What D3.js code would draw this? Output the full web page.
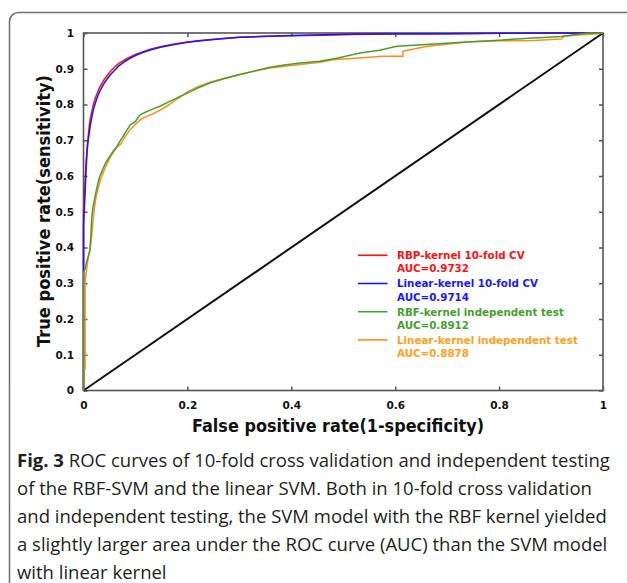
<!DOCTYPE html>
<html>
<head>
<meta charset="utf-8">
<script src="https://cdn.jsdelivr.net/npm/d3@7/dist/d3.min.js"></script>
<style>
  html, body { margin: 0; padding: 0; background: #fff; }
  svg { display: block; }
</style>
</head>
<body>
<svg id="chart" width="627" height="583"></svg>
<script>
// ---------------- DATA ----------------
const xTicks = [0, 0.2, 0.4, 0.6, 0.8, 1];
const yTicks = [0, 0.1, 0.2, 0.3, 0.4, 0.5, 0.6, 0.7, 0.8, 0.9, 1];

const seriesNames = ["RBP-kernel 10-fold CV", "Linear-kernel 10-fold CV", "RBF-kernel independent test", "Linear-kernel independent test"];
const seriesAUC = ["AUC=0.9732", "AUC=0.9714", "AUC=0.8912", "AUC=0.8878"];
const seriesColors = ["#ff1010", "#1818ff", "#44a030", "#ff8c1e"];
const legendTextColors = ["#ff1010", "#1818ff", "#44a030", "#ffa020"];

const fprRbfCV = [0, 0, 0.003, 0.005, 0.007, 0.009, 0.011, 0.013, 0.016, 0.019, 0.022, 0.026, 0.030, 0.035, 0.040, 0.046, 0.052, 0.060, 0.068, 0.077, 0.088, 0.100, 0.115, 0.130, 0.150, 0.175, 0.200, 0.230, 0.265, 0.300, 0.340, 0.400, 0.460, 0.520, 0.600, 0.700, 0.800, 0.900, 1.0];
const tprRbfCV = [0, 0.50, 0.58, 0.64, 0.68, 0.71, 0.74, 0.76, 0.78, 0.80, 0.815, 0.83, 0.845, 0.858, 0.87, 0.882, 0.893, 0.905, 0.915, 0.923, 0.932, 0.940, 0.948, 0.955, 0.962, 0.969, 0.975, 0.980, 0.984, 0.988, 0.990, 0.992, 0.994, 0.996, 0.997, 0.998, 0.999, 1.0, 1.0];

const fprLinCV = [0, 0, 0.003, 0.005, 0.007, 0.009, 0.011, 0.013, 0.016, 0.019, 0.022, 0.026, 0.030, 0.035, 0.040, 0.046, 0.052, 0.060, 0.068, 0.077, 0.088, 0.100, 0.115, 0.130, 0.150, 0.175, 0.200, 0.230, 0.265, 0.300, 0.340, 0.400, 0.460, 0.520, 0.600, 0.700, 0.800, 0.900, 1.0];
const tprLinCV = [0, 0.46, 0.55, 0.62, 0.67, 0.70, 0.72, 0.74, 0.765, 0.785, 0.80, 0.818, 0.833, 0.847, 0.86, 0.872, 0.884, 0.896, 0.908, 0.918, 0.928, 0.937, 0.946, 0.953, 0.961, 0.968, 0.974, 0.979, 0.984, 0.988, 0.990, 0.993, 0.995, 0.997, 0.998, 0.998, 0.999, 1.0, 1.0];

const fprRbfInd = [0, 0, 0.003, 0.006, 0.009, 0.012, 0.014, 0.016, 0.018, 0.021, 0.024, 0.027, 0.031, 0.036, 0.042, 0.050, 0.057, 0.064, 0.070, 0.080, 0.090, 0.100, 0.109, 0.120, 0.133, 0.147, 0.165, 0.185, 0.200, 0.220, 0.243, 0.270, 0.300, 0.330, 0.359, 0.390, 0.417, 0.455, 0.490, 0.532, 0.570, 0.603, 0.660, 0.738, 0.800, 0.866, 0.920, 0.943, 0.975, 1.0];
const tprRbfInd = [0, 0.33, 0.34, 0.36, 0.375, 0.39, 0.43, 0.486, 0.51, 0.533, 0.555, 0.575, 0.598, 0.615, 0.635, 0.654, 0.669, 0.682, 0.697, 0.72, 0.743, 0.753, 0.771, 0.779, 0.787, 0.795, 0.808, 0.822, 0.832, 0.846, 0.86, 0.872, 0.883, 0.894, 0.904, 0.911, 0.916, 0.921, 0.930, 0.944, 0.952, 0.963, 0.968, 0.975, 0.980, 0.986, 0.990, 0.995, 1.0, 1.0];

const fprLinInd = [0, 0, 0.003, 0.003, 0.006, 0.009, 0.012, 0.015, 0.018, 0.021, 0.024, 0.028, 0.033, 0.038, 0.044, 0.050, 0.057, 0.064, 0.072, 0.080, 0.090, 0.100, 0.110, 0.120, 0.135, 0.150, 0.165, 0.185, 0.200, 0.220, 0.243, 0.270, 0.300, 0.330, 0.359, 0.390, 0.417, 0.455, 0.480, 0.530, 0.577, 0.615, 0.615, 0.660, 0.738, 0.800, 0.866, 0.920, 0.925, 0.960, 0.990, 1.0];
const tprLinInd = [0, 0.06, 0.06, 0.30, 0.34, 0.37, 0.39, 0.42, 0.47, 0.51, 0.54, 0.565, 0.59, 0.61, 0.63, 0.648, 0.665, 0.68, 0.69, 0.71, 0.73, 0.745, 0.758, 0.766, 0.775, 0.786, 0.80, 0.82, 0.835, 0.85, 0.862, 0.873, 0.884, 0.894, 0.902, 0.908, 0.912, 0.918, 0.925, 0.930, 0.935, 0.935, 0.949, 0.962, 0.975, 0.978, 0.979, 0.983, 0.991, 0.995, 0.998, 1.0];

const diagonal = [0, 1];

const xTitle = "False positive rate(1-specificity)";
const yTitle = "True positive rate(sensitivity)";
const captionLines = [
  ["Fig. 3", " ROC curves of 10-fold cross validation and independent testing"],
  ["", "of the RBF-SVM and the linear SVM. Both in 10-fold cross validation"],
  ["", "and independent testing, the SVM model with the RBF kernel yielded"],
  ["", "a slightly larger area under the ROC curve (AUC) than the SVM model"],
  ["", "with linear kernel"]
];

// ---------------- DRAW ----------------
const svg = d3.select("#chart");
const boldFont = "'DejaVu Sans', Verdana, sans-serif";

// outer rounded frame
svg.append("rect")
  .attr("x", 9.5).attr("y", 12.5)
  .attr("width", 660).attr("height", 640)
  .attr("rx", 9).attr("ry", 9)
  .attr("fill", "none").attr("stroke", "#6e6e6e").attr("stroke-width", 1.5);

const x = d3.scaleLinear().domain([0, 1]).range([83.5, 603]);
const y = d3.scaleLinear().domain([0, 1]).range([390.5, 33]);

const plot = svg.append("g");

// axes with inward ticks
const axStyle = g => {
  g.select(".domain").remove();
  g.selectAll(".tick line").attr("stroke", "#555").attr("stroke-width", 1.5);
  g.selectAll("text").attr("font-family", boldFont).attr("font-weight", "bold")
    .attr("font-size", 10.5).attr("fill", "#111");
};
plot.append("g").attr("transform", `translate(0,${y(0)})`)
  .call(d3.axisBottom(x).tickValues(xTicks).tickSize(-4).tickPadding(11).tickFormat(d3.format("")))
  .call(axStyle);
plot.append("g").attr("transform", `translate(0,${y(1)})`)
  .call(d3.axisTop(x).tickValues(xTicks).tickSize(-4).tickFormat(""))
  .call(axStyle);
plot.append("g").attr("transform", `translate(${x(0)},0)`)
  .call(d3.axisLeft(y).tickValues(yTicks).tickSize(-4).tickPadding(9.5).tickFormat(d3.format("")))
  .call(axStyle);
plot.append("g").attr("transform", `translate(${x(1)},0)`)
  .call(d3.axisRight(y).tickValues(yTicks).tickSize(-4).tickFormat(""))
  .call(axStyle);

// plot frame
plot.append("rect")
  .attr("x", x(0)).attr("y", y(1))
  .attr("width", x(1) - x(0)).attr("height", y(0) - y(1))
  .attr("fill", "none").attr("stroke", "#555").attr("stroke-width", 1.6);

// diagonal
plot.append("line")
  .attr("x1", x(diagonal[0])).attr("y1", y(diagonal[0]))
  .attr("x2", x(diagonal[1])).attr("y2", y(diagonal[1]))
  .attr("stroke", "#111").attr("stroke-width", 2);

// curves
const series = [
  { fpr: fprRbfCV, tpr: tprRbfCV, idx: 0 },
  { fpr: fprLinCV, tpr: tprLinCV, idx: 1 },
  { fpr: fprLinInd, tpr: tprLinInd, idx: 3 },
  { fpr: fprRbfInd, tpr: tprRbfInd, idx: 2 }
];
const line = d3.line().x(d => x(d[0])).y(d => y(d[1])).curve(d3.curveLinear);
series.forEach(s => {
  const pts = s.fpr.map((f, i) => [f, s.tpr[i]]);
  plot.append("path")
    .attr("d", line(pts))
    .attr("fill", "none")
    .attr("stroke", seriesColors[s.idx])
    .attr("stroke-width", 1.5)
    .attr("stroke-linejoin", "round");
});

// legend
const leg = plot.append("g");
seriesNames.forEach((name, i) => {
  const yy = 255.3 + i * 28.2;
  leg.append("line")
    .attr("x1", 358).attr("x2", 387.5)
    .attr("y1", yy).attr("y2", yy)
    .attr("stroke", seriesColors[i]).attr("stroke-width", 1.6);
  leg.append("text")
    .attr("x", 397).attr("y", yy + 3.8)
    .attr("font-family", boldFont).attr("font-weight", "bold").attr("font-size", 10.3)
    .attr("fill", legendTextColors[i])
    .text(name);
  leg.append("text")
    .attr("x", 397).attr("y", yy + 17)
    .attr("font-family", boldFont).attr("font-weight", "bold").attr("font-size", 10.3)
    .attr("fill", legendTextColors[i])
    .text(seriesAUC[i]);
});

// axis titles
svg.append("text")
  .attr("x", 338).attr("y", 432)
  .attr("text-anchor", "middle")
  .attr("font-family", boldFont).attr("font-weight", "bold").attr("font-size", 17)
  .attr("fill", "#111")
  .attr("textLength", 292).attr("lengthAdjust", "spacingAndGlyphs")
  .text(xTitle);
svg.append("text")
  .attr("transform", "translate(49.5,211) rotate(-90)")
  .attr("text-anchor", "middle")
  .attr("font-family", boldFont).attr("font-weight", "bold").attr("font-size", 17)
  .attr("fill", "#111")
  .attr("textLength", 272).attr("lengthAdjust", "spacingAndGlyphs")
  .text(yTitle);

// caption
const cap = svg.append("g");
captionLines.forEach((parts, i) => {
  const t = cap.append("text")
    .attr("x", 17).attr("y", 467 + i * 28)
    .attr("font-family", "'Open Sans', 'Noto Sans', sans-serif")
    .attr("font-size", 18.5)
    .attr("fill", "#231f20");
  if (parts[0]) t.append("tspan").attr("font-weight", "bold").text(parts[0]);
  t.append("tspan").text(parts[1]);
});
</script>
</body>
</html>
